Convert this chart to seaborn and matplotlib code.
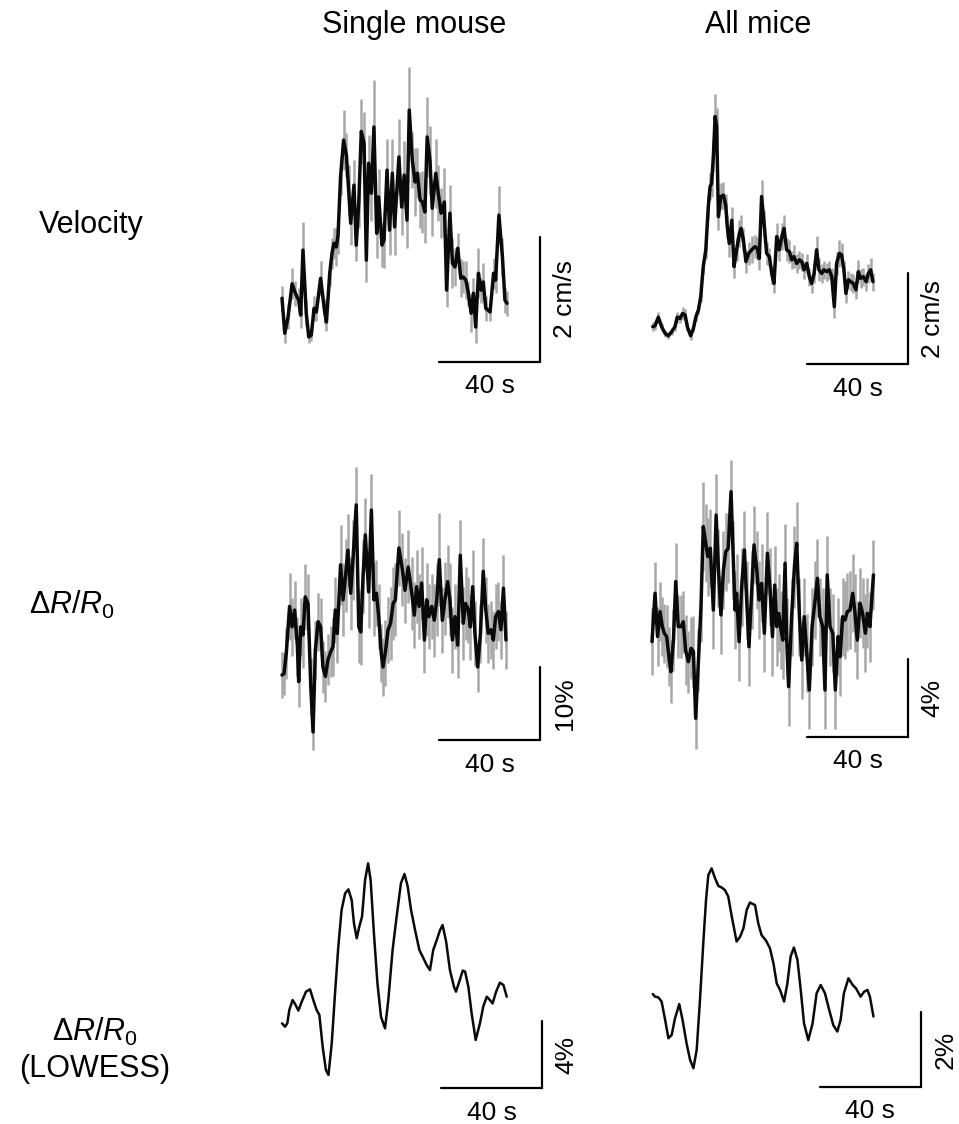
"""Velocity and dR/R0 traces: single mouse vs all mice, with scale bars."""
import matplotlib
matplotlib.use("Agg")
import matplotlib.pyplot as plt
import numpy as np
import pandas as pd
import seaborn as sns

# ---- data (time in s, velocity in cm/s, dR/R0 in %) ----
single_vel_t = [
    0.0, 1.1, 2.4, 4.0, 5.3, 6.6, 7.4, 8.3, 9.6, 10.6,
    11.6, 12.7, 13.6, 15.3, 16.9, 17.6, 18.9, 19.8, 20.6, 21.5,
    22.2, 23.2, 24.4, 25.5, 26.4, 27.2, 28.5, 29.4, 30.4, 31.4,
    32.5, 33.4, 34.3, 35.4, 36.4, 37.5, 38.3, 39.6, 40.4, 41.6,
    42.6, 43.7, 44.6, 46.3, 47.4, 48.4, 49.5, 50.4, 51.6, 52.7,
    53.6, 54.7, 55.6, 56.6, 57.5, 58.6, 59.5, 60.9, 61.9, 63.0,
    64.3, 65.2, 66.5, 67.5, 68.5, 69.6, 70.8, 71.8, 72.8, 73.8,
    74.9, 75.8, 76.7, 77.8, 78.8, 79.7, 80.7, 82.4, 83.8, 84.6,
    85.9, 87.3, 88.3, 89.1]
single_vel = [
    1.02, 0.46, 0.72, 1.25, 1.10, 0.99, 0.75, 1.79, 0.78, 0.40,
    0.43, 0.86, 0.80, 1.34, 0.80, 0.64, 1.42, 1.74, 1.90, 1.84,
    2.03, 2.97, 3.55, 3.31, 2.75, 2.22, 2.83, 1.87, 2.54, 3.69,
    3.50, 1.63, 3.18, 2.70, 3.76, 2.06, 2.64, 1.87, 1.95, 3.07,
    2.11, 3.02, 2.16, 3.28, 2.48, 2.99, 2.27, 4.03, 3.23, 2.88,
    3.02, 2.59, 2.56, 2.40, 3.60, 3.23, 2.46, 3.02, 2.70, 2.38,
    2.56, 1.15, 2.38, 1.58, 1.52, 1.82, 1.34, 1.36, 1.31, 1.10,
    0.78, 1.10, 0.56, 1.42, 1.15, 1.28, 0.86, 0.80, 1.42, 1.31,
    2.35, 1.68, 0.99, 0.94]
single_vel_err = [
    0.20, 0.15, 0.20, 0.25, 0.20, 0.20, 0.20, 0.45, 0.20, 0.10,
    0.10, 0.20, 0.15, 0.28, 0.20, 0.15, 0.20, 0.25, 0.25, 0.30,
    0.30, 0.30, 0.48, 0.35, 0.40, 0.35, 0.40, 0.25, 0.40, 0.52,
    0.50, 0.35, 0.45, 0.45, 0.75, 0.40, 0.45, 0.35, 0.45, 0.50,
    0.40, 0.55, 0.45, 0.60, 0.45, 0.55, 0.45, 0.69, 0.45, 0.55,
    0.40, 0.45, 0.50, 0.50, 0.64, 0.55, 0.45, 0.55, 0.45, 0.40,
    0.55, 0.27, 0.45, 0.40, 0.30, 0.25, 0.30, 0.25, 0.30, 0.20,
    0.30, 0.25, 0.25, 0.40, 0.20, 0.30, 0.20, 0.15, 0.25, 0.20,
    0.46, 0.30, 0.20, 0.20]

all_vel_t = [
    0.3, 1.2, 2.5, 3.8, 5.2, 6.5, 7.8, 9.1, 10.0, 11.1,
    12.1, 13.1, 14.0, 15.3, 16.4, 17.4, 18.4, 19.3, 20.3, 21.3,
    22.3, 23.0, 23.6, 24.3, 25.0, 25.6, 26.3, 27.2, 28.3, 29.2,
    29.8, 30.6, 31.6, 32.5, 33.5, 34.6, 35.3, 36.2, 37.2, 38.3,
    39.5, 40.8, 41.7, 42.5, 43.4, 44.4, 45.4, 46.5, 47.5, 48.3,
    49.4, 50.4, 51.4, 52.3, 53.3, 54.4, 55.3, 56.2, 57.3, 58.4,
    59.3, 60.2, 61.3, 62.3, 63.2, 64.2, 65.2, 66.1, 67.2, 68.1,
    69.2, 70.2, 71.2, 72.2, 73.1, 74.2, 75.1, 76.0, 76.8, 77.8,
    78.7, 79.7, 80.8, 81.7, 82.6, 83.7, 84.8, 85.7, 86.6, 87.5]
all_vel = [
    0.82, 0.84, 1.03, 0.82, 0.67, 0.62, 0.71, 0.82, 1.03, 1.00,
    1.11, 1.08, 0.82, 0.62, 0.78, 1.04, 1.19, 1.48, 2.14, 2.51,
    3.46, 3.90, 3.97, 4.56, 5.44, 5.22, 3.24, 3.68, 3.71, 3.49,
    3.02, 2.65, 3.16, 2.14, 2.51, 2.87, 2.98, 2.73, 2.25, 2.43,
    2.51, 2.58, 2.54, 2.32, 3.68, 3.09, 2.43, 2.36, 1.96, 1.77,
    2.80, 2.51, 2.80, 2.98, 2.51, 2.47, 2.29, 2.36, 2.21, 2.29,
    2.25, 2.07, 2.21, 1.92, 1.77, 1.99, 2.51, 2.07, 1.99, 2.07,
    2.03, 2.07, 1.92, 1.26, 2.21, 2.43, 2.40, 2.07, 1.55, 1.85,
    1.81, 1.77, 1.63, 2.03, 1.88, 1.92, 1.81, 1.99, 2.07, 1.81]
all_vel_err = [
    0.10, 0.10, 0.12, 0.08, 0.08, 0.08, 0.08, 0.10, 0.12, 0.10,
    0.15, 0.12, 0.10, 0.10, 0.08, 0.10, 0.10, 0.12, 0.15, 0.20,
    0.25, 0.30, 0.30, 0.35, 0.50, 0.40, 0.30, 0.30, 0.30, 0.25,
    0.25, 0.30, 0.30, 0.25, 0.25, 0.30, 0.30, 0.25, 0.25, 0.25,
    0.30, 0.25, 0.25, 0.25, 0.37, 0.30, 0.25, 0.20, 0.20, 0.20,
    0.30, 0.25, 0.30, 0.30, 0.25, 0.25, 0.20, 0.25, 0.20, 0.20,
    0.20, 0.20, 0.20, 0.20, 0.20, 0.20, 0.30, 0.25, 0.20, 0.20,
    0.20, 0.20, 0.20, 0.25, 0.25, 0.30, 0.25, 0.20, 0.20, 0.20,
    0.20, 0.20, 0.20, 0.25, 0.20, 0.20, 0.20, 0.20, 0.25, 0.20]

single_dr_t = [
    0.0, 0.8, 1.7, 3.0, 4.0, 5.0, 6.1, 6.6, 7.4, 8.3,
    9.2, 10.3, 11.4, 12.3, 13.2, 14.3, 15.3, 16.2, 17.2, 18.2,
    19.3, 20.2, 21.1, 21.9, 23.2, 24.2, 25.2, 26.1, 27.2, 28.1,
    29.4, 30.4, 31.2, 32.1, 33.0, 34.3, 35.4, 36.4, 37.4, 38.3,
    39.3, 40.0, 40.9, 42.0, 43.0, 44.0, 44.9, 46.3, 47.7, 48.7,
    50.0, 51.4, 52.4, 53.3, 54.3, 55.3, 56.4, 57.3, 58.2, 59.3,
    60.3, 61.3, 62.3, 63.5, 64.6, 65.6, 66.5, 67.5, 68.5, 69.6,
    70.6, 71.8, 72.7, 73.8, 74.6, 75.5, 76.4, 77.5, 78.6, 79.7,
    80.7, 81.7, 82.8, 83.7, 84.6, 85.7, 86.7, 87.7, 88.7]
single_dr = [
    8.9, 9.1, 11.9, 18.3, 15.5, 17.8, 12.8, 8.0, 15.5, 14.4,
    19.6, 18.7, 7.3, 1.1, 12.3, 16.2, 15.5, 10.0, 8.7, 11.0,
    12.1, 12.8, 17.8, 14.6, 24.0, 19.2, 22.6, 26.0, 20.1, 24.7,
    32.2, 15.5, 14.8, 22.4, 28.1, 20.3, 31.5, 19.2, 20.1, 16.9,
    11.9, 10.0, 11.9, 15.1, 16.0, 18.7, 19.2, 26.3, 23.3, 20.5,
    23.7, 20.1, 17.1, 21.0, 18.3, 21.5, 13.7, 19.2, 16.9, 18.3,
    16.4, 19.2, 24.7, 16.4, 19.4, 21.7, 19.2, 13.7, 16.9, 13.0,
    25.3, 16.0, 18.7, 17.8, 15.5, 21.0, 14.6, 10.0, 14.6, 23.1,
    17.8, 14.6, 15.1, 13.7, 16.9, 17.6, 15.1, 20.8, 13.7]
single_dr_err = [
    3.2, 3.0, 3.5, 4.6, 4.0, 4.0, 4.0, 3.5, 4.0, 4.5,
    4.5, 4.0, 4.0, 2.5, 4.0, 4.0, 4.0, 3.5, 3.5, 3.5,
    3.5, 4.0, 4.5, 4.0, 5.5, 5.0, 5.0, 5.0, 5.0, 5.5,
    5.2, 5.0, 4.5, 5.0, 5.0, 5.0, 5.0, 5.0, 4.5, 4.5,
    4.0, 4.0, 4.5, 4.5, 5.0, 5.0, 5.0, 5.2, 5.0, 4.5,
    5.0, 5.0, 4.5, 5.0, 4.5, 5.0, 4.5, 5.0, 4.5, 4.5,
    5.0, 5.0, 6.4, 4.5, 5.0, 5.0, 5.0, 4.5, 4.5, 4.5,
    4.8, 5.0, 5.0, 4.5, 4.5, 5.0, 4.5, 3.4, 4.0, 4.6,
    4.5, 4.0, 4.0, 4.0, 4.5, 4.0, 4.0, 4.5, 4.0]

all_dr_t = [
    0.0, 1.2, 2.2, 3.2, 4.1, 4.9, 5.8, 6.7, 7.5, 8.5,
    9.4, 10.4, 11.5, 12.4, 13.3, 14.4, 15.5, 16.4, 17.3, 18.4,
    19.4, 20.3, 21.3, 22.1, 23.1, 24.3, 25.4, 26.3, 27.3, 28.3,
    29.2, 30.2, 31.3, 32.2, 32.9, 33.5, 34.5, 35.5, 36.6, 37.5,
    38.4, 39.5, 40.4, 41.5, 42.4, 43.4, 44.5, 45.7, 46.7, 47.7,
    48.6, 49.4, 50.2, 51.1, 51.8, 52.7, 53.3, 54.1, 55.3, 56.4,
    57.3, 58.4, 59.3, 60.3, 61.3, 62.3, 63.4, 64.6, 65.5, 66.5,
    67.6, 68.5, 69.4, 70.5, 71.6, 72.6, 73.7, 74.5, 75.5, 76.4,
    77.4, 78.4, 79.5, 80.4, 81.3, 82.4, 83.4, 84.5, 85.3, 86.3,
    87.7]
all_dr = [
    4.89, 7.37, 5.15, 6.43, 5.66, 5.32, 5.15, 4.12, 3.35, 4.97,
    7.97, 5.66, 5.66, 5.91, 4.46, 3.86, 4.55, 4.38, 0.96, 3.95,
    6.68, 10.79, 9.93, 9.25, 9.68, 6.51, 11.38, 8.65, 6.26, 8.56,
    9.50, 9.68, 12.58, 9.08, 6.51, 7.37, 4.89, 7.71, 9.59, 7.03,
    4.63, 7.54, 9.85, 8.56, 7.03, 7.88, 5.32, 9.42, 7.71, 5.15,
    7.79, 5.66, 6.34, 5.49, 4.97, 8.91, 5.15, 2.58, 6.17, 8.73,
    9.93, 6.17, 3.95, 6.17, 4.29, 2.41, 5.66, 7.03, 8.14, 6.17,
    5.66, 2.41, 8.31, 5.66, 5.32, 2.41, 5.15, 4.12, 6.17, 6.00,
    6.43, 6.51, 7.37, 6.34, 4.97, 6.86, 6.34, 5.32, 6.34, 5.66,
    8.31]
all_dr_err = [
    1.7, 1.6, 1.5, 1.5, 1.5, 1.5, 1.6, 1.5, 1.6, 1.6,
    2.0, 1.6, 1.6, 1.6, 1.8, 1.6, 1.6, 1.8, 1.6, 1.6,
    1.8, 2.3, 2.0, 2.0, 2.0, 2.0, 2.1, 2.0, 2.0, 2.0,
    2.0, 1.8, 1.6, 2.0, 2.0, 2.0, 2.0, 2.0, 2.0, 2.0,
    2.0, 2.0, 2.0, 2.0, 2.0, 2.0, 2.0, 2.1, 2.0, 2.0,
    2.0, 2.0, 2.0, 2.0, 2.0, 2.0, 2.0, 2.0, 2.0, 2.1,
    2.1, 2.0, 2.0, 2.0, 2.0, 2.0, 2.0, 2.0, 2.0, 2.0,
    2.0, 2.0, 2.0, 2.0, 2.0, 2.0, 2.0, 2.0, 2.0, 2.0,
    2.0, 2.0, 2.0, 2.0, 2.0, 1.8, 1.8, 2.0, 1.8, 1.8,
    1.8]

single_lowess_t = [
    0.0, 1.2, 2.1, 2.9, 4.2, 5.2, 6.5, 7.8, 9.5, 11.1,
    12.4, 13.7, 14.8, 16.1, 17.4, 18.4, 19.7, 21.0, 22.3, 23.6,
    25.0, 26.3, 27.6, 28.5, 29.6, 30.6, 31.7, 32.9, 34.1, 35.1,
    36.4, 37.8, 39.2, 40.8, 42.1, 43.8, 45.4, 47.1, 48.5, 49.8,
    51.1, 52.7, 54.4, 55.7, 57.3, 58.6, 59.9, 61.3, 62.6, 63.6,
    65.0, 66.5, 68.1, 68.9, 70.2, 71.6, 72.5, 73.8, 75.1, 76.7,
    78.4, 79.7, 81.1, 82.1, 83.4, 84.8, 86.3, 87.7, 89.0]
single_lowess = [
    3.86, 3.66, 3.86, 4.66, 5.25, 5.01, 4.62, 5.15, 5.75, 5.89,
    5.25, 4.66, 4.36, 2.47, 1.07, 0.78, 2.67, 5.65, 8.44, 10.63,
    11.62, 11.86, 11.22, 9.83, 8.94, 9.63, 10.23, 12.42, 13.41, 12.42,
    9.24, 6.25, 4.26, 3.56, 5.25, 8.24, 10.23, 12.22, 12.78, 12.02,
    10.63, 9.43, 8.24, 7.84, 7.34, 7.04, 8.24, 8.84, 9.43, 9.73,
    8.74, 7.04, 6.05, 5.75, 6.35, 7.01, 6.95, 6.05, 4.46, 2.87,
    3.86, 4.86, 5.45, 5.29, 5.05, 5.75, 6.29, 6.15, 5.45]

all_lowess_t = [
    0.3, 1.2, 2.5, 3.8, 5.2, 6.5, 7.8, 9.1, 10.8, 12.1,
    13.7, 15.1, 16.4, 17.7, 19.0, 20.3, 21.4, 22.3, 23.6, 25.0,
    26.3, 27.6, 28.9, 30.2, 31.6, 33.5, 34.9, 36.2, 37.5, 38.8,
    40.8, 42.1, 43.4, 45.2, 46.7, 48.1, 49.4, 50.7, 52.3, 53.6,
    54.9, 56.2, 57.6, 58.9, 60.2, 61.9, 63.6, 65.2, 66.8, 68.5,
    70.2, 71.8, 73.4, 74.7, 76.0, 77.8, 79.5, 80.8, 82.6, 84.0,
    85.3, 86.3, 87.7]
all_lowess = [
    2.48, 2.41, 2.39, 2.28, 1.79, 1.30, 1.39, 1.83, 2.21, 1.79,
    1.16, 0.72, 0.50, 0.99, 2.32, 3.83, 4.99, 5.65, 5.83, 5.56,
    5.36, 5.32, 5.25, 5.08, 4.54, 3.88, 4.01, 4.23, 4.72, 4.92,
    4.85, 4.36, 4.05, 3.90, 3.70, 3.30, 2.76, 2.59, 2.28, 2.76,
    3.48, 3.72, 3.39, 2.59, 1.70, 1.25, 1.70, 2.50, 2.72, 2.50,
    2.05, 1.65, 1.48, 1.79, 2.50, 2.90, 2.72, 2.63, 2.41, 2.54,
    2.59, 2.41, 1.88]

col_titles = ["Single mouse", "All mice"]
row_labels = ["Velocity", r"$\Delta R/R_0$", "$\\Delta R/R_0$\n(LOWESS)"]
time_bar = 40  # s
unit_bars = [(2, "2 cm/s"), (2, "2 cm/s"), (10, "10%"), (4, "4%"), (4, "4%"), (2, "2%")]

# ---- style ----
sns.set_theme(style="white")
plt.rcParams["font.family"] = ["Liberation Sans", "DejaVu Sans"]
plt.rcParams["mathtext.fontset"] = "custom"
plt.rcParams["mathtext.rm"] = "Liberation Sans"
plt.rcParams["mathtext.it"] = "Liberation Sans:italic"
plt.rcParams["text.color"] = "black"

W, H = 959, 1124
PX_PER_S = 2.525
GREY = "#a8a8a8"

fig = plt.figure(figsize=(W / 100, H / 100), dpi=100)


def add_panel(rect, x0, y0, ppu):
    """Axes placed in pixel space; t=0 at x0 px, value 0 at y0 px."""
    L, R, T, B = rect
    ax = fig.add_axes([L / W, 1 - B / H, (R - L) / W, (B - T) / H])
    ax.set_xlim((L - x0) / PX_PER_S, (R - x0) / PX_PER_S)
    ax.set_ylim((y0 - B) / ppu, (y0 - T) / ppu)
    ax.axis("off")
    return ax


def draw_trace(ax, t, y, err=None, lw=2.5):
    if err is not None:
        ax.errorbar(t, y, yerr=err, fmt="none", ecolor=GREY,
                    elinewidth=1.8, capsize=0, clip_on=False)
    df = pd.DataFrame({"t": t, "y": y})
    sns.lineplot(data=df, x="t", y="y", ax=ax, color="#0a0a0a", lw=lw,
                 estimator=None, sort=False, clip_on=False)


def scale_bar(ax, t_end, size, label):
    ax.plot([t_end - time_bar, t_end, t_end], [0, 0, size],
            color="black", lw=1.6, solid_joinstyle="miter", clip_on=False)
    ax.annotate(f"{time_bar} s", xy=(t_end - time_bar / 2, 0), xytext=(0, -9),
                textcoords="offset points", ha="center", va="top", fontsize=19)
    ax.annotate(label, xy=(t_end, size / 2), xytext=(9, 0),
                textcoords="offset points", ha="left", va="center",
                rotation=90, fontsize=19)


# panel layout: (rect L,R,T,B px), t=0 px, zero px, px per unit, bar end (s)
panels = [
    ((272, 545, 55, 367), 282, 362, 62.5, 102.2),
    ((642, 913, 55, 369), 652, 364, 45.5, 101.4),
    ((272, 545, 440, 745), 282, 740, 7.3, 102.2),
    ((642, 913, 440, 742), 652, 737, 19.5, 101.4),
    ((272, 547, 840, 1093), 282, 1088, 16.75, 103.0),
    ((642, 926, 840, 1092), 652, 1087, 37.5, 106.5),
]
traces = [
    (single_vel_t, single_vel, single_vel_err, 2.5),
    (all_vel_t, all_vel, all_vel_err, 2.5),
    (single_dr_t, single_dr, single_dr_err, 2.5),
    (all_dr_t, all_dr, all_dr_err, 2.5),
    (single_lowess_t, single_lowess, None, 1.8),
    (all_lowess_t, all_lowess, None, 1.8),
]

for (rect, x0, y0, ppu, t_end), (t, y, e, lw), (size, lab) in zip(panels, traces, unit_bars):
    ax = add_panel(rect, x0, y0, ppu)
    draw_trace(ax, t, y, e, lw)
    scale_bar(ax, t_end, size, lab)

# column titles and row labels
for x, txt in zip([414, 758], col_titles):
    fig.text(x / W, 1 - 25 / H, txt, ha="center", va="center", fontsize=22)
for (x, y), txt in zip([(91, 225), (72, 605), (95, 1050)], row_labels):
    fig.text(x / W, 1 - y / H, txt, ha="center", va="center", fontsize=22,
             linespacing=1.3)

fig.savefig("out.png", dpi=100)
